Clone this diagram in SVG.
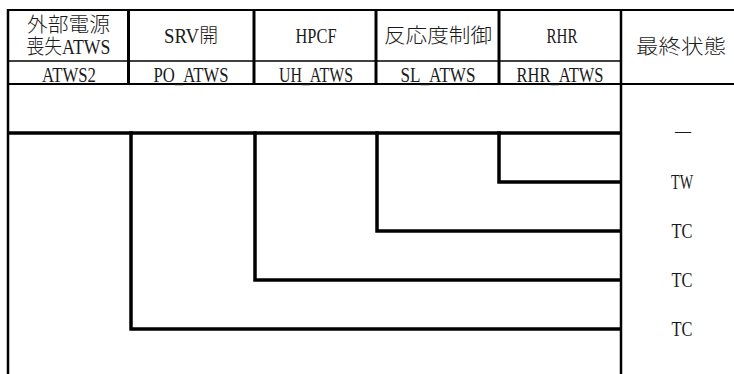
<svg xmlns="http://www.w3.org/2000/svg" width="734" height="374" viewBox="0 0 734 374">
<style>
text{font-family:"Liberation Serif","Noto Sans CJK JP",serif;font-size:21px;fill:#1a1a1a;text-anchor:middle;font-weight:300}
.j{font-size:20px}
.m{font-size:20.5px}
.b{stroke:#000;fill:none}
.tree{stroke:#000;stroke-width:3.5;fill:none;stroke-linecap:square}
</style>
<rect x="0" y="0" width="734" height="374" fill="#fff"/>
<g id="table-grid">
<line class="b" x1="7" y1="10" x2="734" y2="10" stroke-width="2"/>
<line class="b" x1="8" y1="61" x2="621" y2="61" stroke-width="1.5"/>
<line class="b" x1="8" y1="84" x2="734" y2="84" stroke-width="2"/>
<line class="b" x1="8" y1="9" x2="8" y2="374" stroke-width="2.5"/>
<line class="b" x1="128.5" y1="10" x2="128.5" y2="85" stroke-width="3"/>
<line class="b" x1="254" y1="10" x2="254" y2="85" stroke-width="3"/>
<line class="b" x1="376" y1="10" x2="376" y2="85" stroke-width="3"/>
<line class="b" x1="499" y1="10" x2="499" y2="85" stroke-width="3"/>
<line class="b" x1="621" y1="10" x2="621" y2="374" stroke-width="2.5"/>
</g>
<g id="h-loss">
<text class="j" x="68.5" y="31.5" textLength="83" lengthAdjust="spacingAndGlyphs">外部電源</text>
<text class="m" x="68.5" y="54" textLength="84" lengthAdjust="spacingAndGlyphs">喪失ATWS</text>
<text x="69" y="81.5" textLength="54" lengthAdjust="spacingAndGlyphs">ATWS2</text>
</g>
<g id="h-srv">
<text class="m" x="191" y="42.5" textLength="54" lengthAdjust="spacingAndGlyphs">SRV開</text>
<text x="191" y="81.5" textLength="75" lengthAdjust="spacingAndGlyphs">PO_ATWS</text>
</g>
<g id="h-hpcf">
<text x="316" y="42.5" textLength="41" lengthAdjust="spacingAndGlyphs">HPCF</text>
<text x="316" y="81.5" textLength="74" lengthAdjust="spacingAndGlyphs">UH_ATWS</text>
</g>
<g id="h-react">
<text class="j" x="438" y="43" textLength="108" lengthAdjust="spacingAndGlyphs">反応度制御</text>
<text x="438" y="81.5" textLength="75" lengthAdjust="spacingAndGlyphs">SL_ATWS</text>
</g>
<g id="h-rhr">
<text x="562" y="42.5" textLength="31" lengthAdjust="spacingAndGlyphs">RHR</text>
<text x="560" y="81.5" textLength="87" lengthAdjust="spacingAndGlyphs">RHR_ATWS</text>
</g>
<g id="h-final">
<text class="j" x="681" y="54" textLength="90" lengthAdjust="spacingAndGlyphs">最終状態</text>
</g>
<g id="connectors">
<path class="tree" d="M9 133 H620"/>
<path class="tree" d="M499 133 V182 H620"/>
<path class="tree" d="M377 133 V231 H620"/>
<path class="tree" d="M255 133 V280 H620"/>
<path class="tree" d="M131 133 V329 H620"/>
</g>
<g id="end-states">
<text x="683" y="137.5" textLength="16" lengthAdjust="spacingAndGlyphs">—</text>
<text x="682" y="189" textLength="22" lengthAdjust="spacingAndGlyphs">TW</text>
<text x="682" y="238" textLength="21" lengthAdjust="spacingAndGlyphs">TC</text>
<text x="682" y="287" textLength="21" lengthAdjust="spacingAndGlyphs">TC</text>
<text x="682" y="336" textLength="21" lengthAdjust="spacingAndGlyphs">TC</text>
</g>
</svg>
